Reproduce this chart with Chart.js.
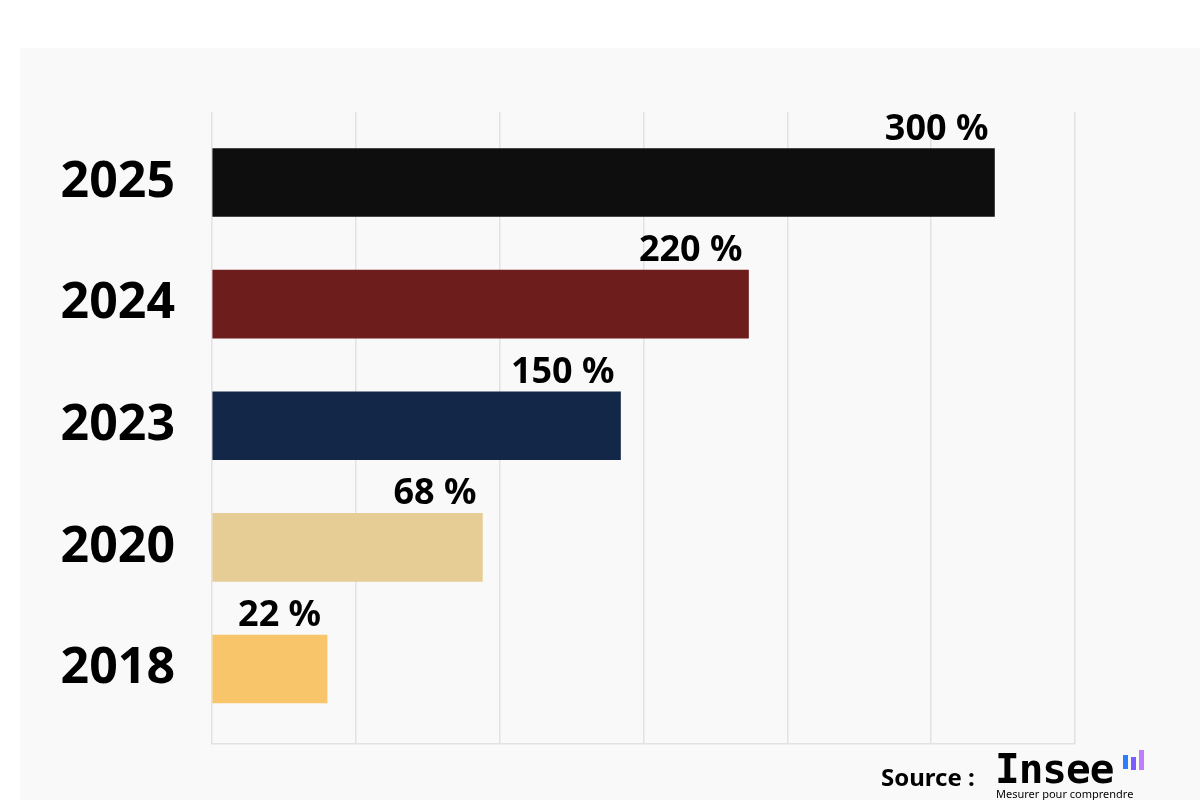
<!DOCTYPE html>
<html>
<head>
<meta charset="utf-8">
<script src="https://cdn.jsdelivr.net/npm/chart.js@4.4.1/dist/chart.umd.min.js"></script>
<style>
  body { margin: 0; background: #ffffff; }
  #wrap { position: relative; width: 1200px; height: 800px; overflow: hidden; }
  #panel { position: absolute; left: 20px; top: 48px; width: 1180px; height: 752px; background: #f9f9f9; }
  #chartBox { position: absolute; left: 0; top: 0; width: 1200px; height: 800px; }
  .src { position: absolute; font-family: "Noto Sans", sans-serif; color: #000; white-space: nowrap; }
  .logoBar { position: absolute; }
</style>
</head>
<body>
<div id="wrap">
  <div id="panel"></div>
  <div id="chartBox"><canvas id="barChart"></canvas></div>
  <div class="src" style="left:881px; top:760px; font-size:24px; font-weight:bold;">Source :</div>
  <div class="src" style="left:995px; top:745px; font-size:41px; font-family:'DejaVu Sans Mono', monospace; font-weight:bold; letter-spacing:-1px;">Insee</div>
  <div class="src" style="left:996px; top:786px; font-size:11px;">Mesurer pour comprendre</div>
  <div class="logoBar" style="left:1123px; top:755px; width:5px; height:14px; background:#2f7dff;"></div>
  <div class="logoBar" style="left:1131px; top:757px; width:5px; height:13px; background:#7a5cff;"></div>
  <div class="logoBar" style="left:1139px; top:750px; width:5px; height:20px; background:#c07cff;"></div>
</div>
<script>
// categories, top to bottom
const years = ['2025', '2024', '2023', '2020', '2018'];
// label shown on each bar
const valueLabels = ['300 %', '220 %', '150 %', '68 %', '22 %'];
// bar length as drawn, in grid steps (the axis has 6 steps, no tick labels)
const barLengths = [5.44, 3.73, 2.84, 1.88, 0.80];
const barColors = ['#0e0e0e', '#6e1d1d', '#132848', '#e6cd95', '#f9c56a'];

const valueLabelPlugin = {
  id: 'valueLabels',
  afterDatasetsDraw(chart) {
    const ctx = chart.ctx;
    const meta = chart.getDatasetMeta(0);
    ctx.save();
    ctx.font = 'bold 36px "Noto Sans"';
    ctx.fillStyle = '#000';
    ctx.textAlign = 'right';
    ctx.textBaseline = 'alphabetic';
    meta.data.forEach((bar, i) => {
      const top = bar.y - bar.height / 2;
      ctx.fillText(valueLabels[i], bar.x - 6, top - 9);
    });
    ctx.restore();
  }
};

const ctx = document.getElementById('barChart').getContext('2d');
new Chart(ctx, {
  type: 'bar',
  data: {
    datasets: [{
      data: barLengths.map((v, i) => ({ x: v, y: i })),
      backgroundColor: barColors,
      borderWidth: 0,
      barThickness: 68,
    }],
  },
  options: {
    indexAxis: 'y',
    responsive: true,
    maintainAspectRatio: false,
    animation: false,
    layout: { padding: { left: 0, top: 112, right: 125, bottom: 56 } },
    plugins: { legend: { display: false }, tooltip: { enabled: false } },
    scales: {
      x: {
        type: 'linear',
        min: 0,
        max: 6,
        ticks: { display: false, stepSize: 1 },
        grid: { color: '#e2e2e2', lineWidth: 1.5, drawTicks: false },
        border: { display: true, color: '#e2e2e2', width: 1.5 },
        afterFit(scale) { scale.height = 0; },
      },
      y: {
        type: 'linear',
        reverse: true,
        offset: false,
        min: -0.58,
        max: 4.617,
        grid: { display: false },
        border: { display: false },
        afterBuildTicks(scale) { scale.ticks = years.map((y, i) => ({ value: i })); },
        afterFit(scale) {
          scale.width = 212;
          scale.paddingTop = 0;
          scale.paddingBottom = 0;
        },
        ticks: {
          padding: 29,
          color: '#000',
          font: { family: 'Noto Sans', weight: 'bold', size: 50 },
          callback: (v) => years[v] ?? '',
        },
      },
    },
  },
  plugins: [valueLabelPlugin],
});
</script>
</body>
</html>
